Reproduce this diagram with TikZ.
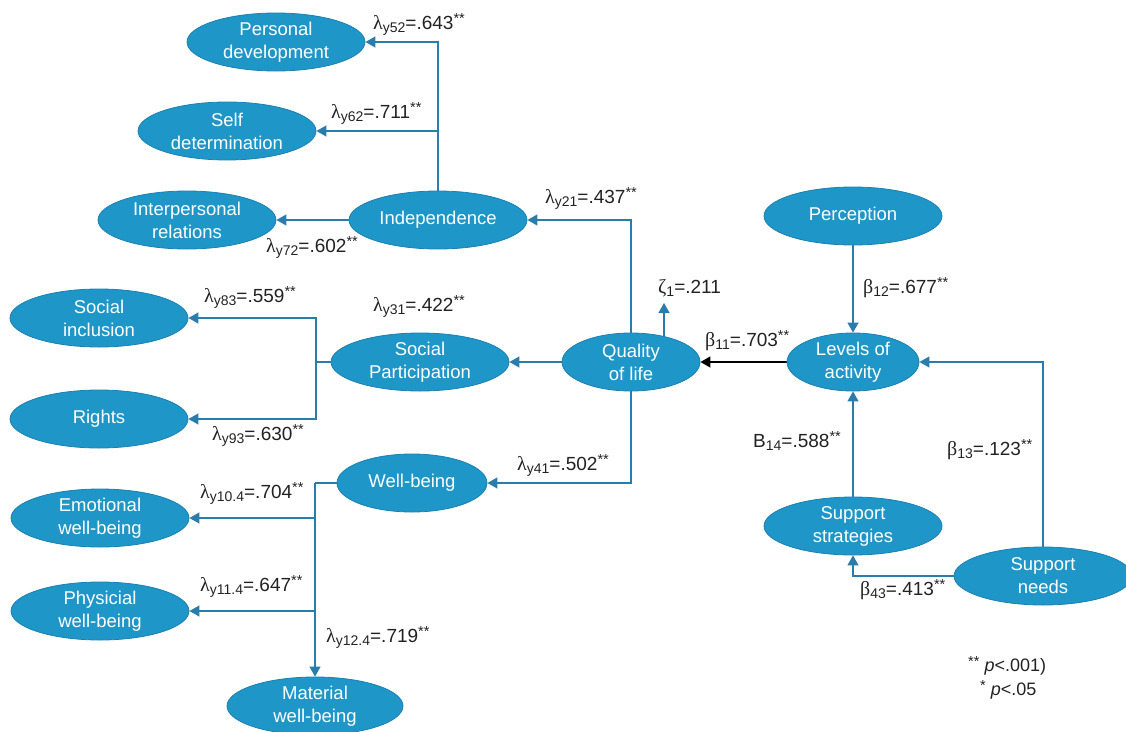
\documentclass[tikz,border=0pt]{standalone}
\usepackage{fontspec}
\setmainfont{Liberation Sans}
\newfontfamily\grk{Liberation Serif}
\usetikzlibrary{shapes.geometric,arrows.meta}
\definecolor{efill}{HTML}{1E96C8}
\definecolor{edraw}{HTML}{1B80B2}
\definecolor{lcol}{HTML}{2A7DAA}
\definecolor{tcol}{HTML}{222222}
\pgfdeclarelayer{bg}
\pgfsetlayers{bg,main}
\newcommand{\lsub}[1]{\raisebox{-0.32ex}{\fontsize{14}{14}\selectfont #1}}
\newcommand{\lsup}[1]{\raisebox{0.5ex}{\fontsize{14.5}{14}\selectfont #1}}
\newcommand{\lam}{{\grk\fontsize{20}{20}\selectfont λ}}
\newcommand{\bet}{{\grk\fontsize{20}{20}\selectfont β}}
\tikzset{
  lat/.style={ellipse, draw=edraw, line width=0.8pt, fill=efill, text=white,
    inner sep=0pt, minimum width=178pt, minimum height=58pt, align=center,
    font=\fontsize{18.5}{23}\selectfont},
  conn/.style={draw=lcol, line width=1.3pt},
  arr/.style={conn, -{Triangle[length=10pt,width=11pt]}},
  blk/.style={draw=black, line width=1.3pt, -{Triangle[length=10pt,width=11pt]}},
  lab/.style={anchor=base west, inner sep=0pt, text=tcol, font=\fontsize{19}{20}\selectfont},
  leg/.style={anchor=base west, inner sep=0pt, text=tcol, font=\fontsize{18}{20}\selectfont}
}
\begin{document}
\begin{tikzpicture}[x=1pt,y=-1pt]
\useasboundingbox (0,0) rectangle (1126,731);
% nodes
\node[lat] (pd) at (276,42) {Personal\\development};
\node[lat] (sd) at (227,131) {Self\\determination};
\node[lat] (ip) at (187,220) {Interpersonal\\relations};
\node[lat] (ind) at (438,220) {Independence};
\node[lat] (si) at (99,318) {Social\\inclusion};
\node[lat] (ri) at (99,419) {Rights};
\node[lat] (sp) at (420,362) {Social\\Participation};
\node[lat, minimum width=138pt] (qol) at (631,362) {Quality\\of life};
\node[lat, minimum width=150pt] (wb) at (412,483) {Well-being};
\node[lat] (ew) at (100,518) {Emotional\\well-being};
\node[lat] (pw) at (100,611) {Physicial\\well-being};
\node[lat, minimum width=176pt] (mw) at (315,706) {Material\\well-being};
\node[lat] (per) at (853,216) {Perception};
\node[lat, minimum width=132pt] (loa) at (853,362) {Levels of\\activity};
\node[lat] (ss) at (853,526) {Support\\strategies};
\node[lat] (sn) at (1043,576) {Support\\needs};
% junctions
\coordinate (spj) at (316,362);
\coordinate (wbj) at (315,483);
\coordinate (zeta) at (664,303);
% connectors
\begin{pgfonlayer}{bg}
\draw[arr] (ind.center) |- (pd.east);
\draw[arr] (ind.center |- sd.east) -- (sd.east);
\draw[arr] (ind.west) -- (ip.east);
\draw[arr] (qol.center) |- (ind.east);
\draw[arr] (qol.center -| zeta) -- (zeta);
\draw[arr] (qol.west) -- (sp.east);
\draw[arr] (qol.center) |- (wb.east);
\draw[conn] (sp.west) -- (spj);
\draw[arr] (spj) |- (si.east);
\draw[arr] (spj) |- (ri.east);
\draw[conn] (wb.west) -- (wbj);
\draw[arr] (wbj) |- (ew.east);
\draw[arr] (wbj) |- (pw.east);
\draw[arr] (wbj) -- (mw.north);
\draw[arr] (per.south) -- (loa.north);
\draw[blk] (loa.west) -- (qol.east);
\draw[arr] (ss.north) -- (loa.south);
\draw[arr] (sn.center) |- (loa.east);
\draw[arr] (sn.center) -| (ss.south);
\end{pgfonlayer}
% labels
\node[lab] (l52) at (373,29) {\lam\lsub{y52}=.643\lsup{**}};
\node[lab] (l62) at (331,118) {\lam\lsub{y62}=.711\lsup{**}};
\node[lab] (l72) at (266,252) {\lam\lsub{y72}=.602\lsup{**}};
\node[lab] (l21) at (545,203) {\lam\lsub{y21}=.437\lsup{**}};
\node[lab] (lz) at (658,293) {{\grk\fontsize{20}{20}\selectfont ζ}\lsub{1}=.211};
\node[lab] (b12) at (863,293) {\bet\lsub{12}=.677\lsup{**}};
\node[lab] (b11) at (705,346) {\bet\lsub{11}=.703\lsup{**}};
\node[lab] (l83) at (204,302) {\lam\lsub{y83}=.559\lsup{**}};
\node[lab] (l31) at (373,311) {\lam\lsub{y31}=.422\lsup{**}};
\node[lab] (l93) at (212,440) {\lam\lsub{y93}=.630\lsup{**}};
\node[lab] (l41) at (517,470) {\lam\lsub{y41}=.502\lsup{**}};
\node[lab] (l104) at (200,498) {\lam\lsub{y10.4}=.704\lsup{**}};
\node[lab] (l114) at (200,591) {\lam\lsub{y11.4}=.647\lsup{**}};
\node[lab] (l124) at (326,642) {\lam\lsub{y12.4}=.719\lsup{**}};
\node[lab] (b14) at (753,447) {B\lsub{14}=.588\lsup{**}};
\node[lab] (b13) at (947,455) {\bet\lsub{13}=.123\lsup{**}};
\node[lab] (b43) at (860,595) {\bet\lsub{43}=.413\lsup{**}};
\node[leg] (lg1) at (968,671) {\lsup{**} \textit{p}<.001)};
\node[leg] (lg2) at (980,695) {\lsup{*} \textit{p}<.05};
\end{tikzpicture}
\end{document}
